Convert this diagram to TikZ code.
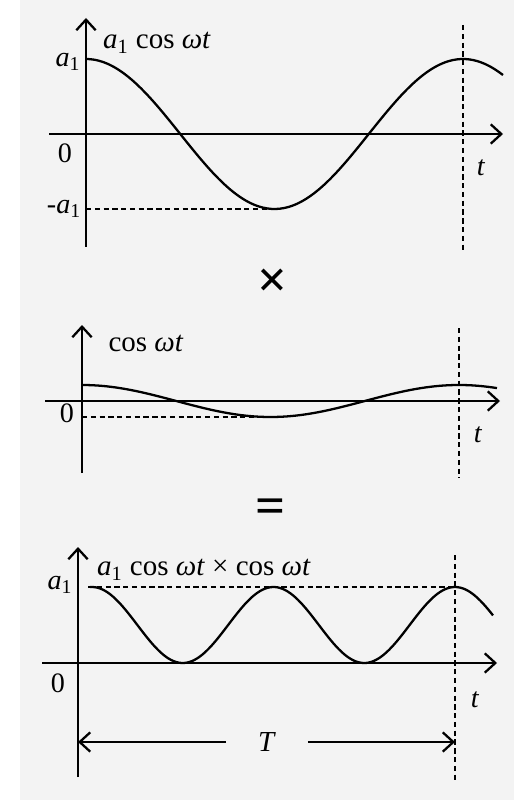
\documentclass[tikz,border=0pt]{standalone}
\usepackage{fontspec}
\setmainfont{Liberation Serif}
\usepackage{xcolor}
\usepackage{tikz}
\usetikzlibrary{arrows.meta}
\definecolor{papel}{RGB}{243,243,243}
\newcommand{\aone}{\textit{a}\textsubscript{1}}
\newcommand{\wt}{\textit{ωt}}

\begin{document}
\begin{tikzpicture}[x=0.02cm,y=-0.02cm,
	eje/.style={line width=1.3pt,-{Straight Barb[length=6pt,width=11pt,line width=1.3pt]}},
	onda/.style={line width=1.3pt},
	guia/.style={line width=0.9pt,dash pattern=on 3pt off 2pt},
	flecha/.style={line width=1.3pt,-{Straight Barb[length=6pt,width=11pt,line width=1.3pt]}},
	titulo/.style={font=\fontsize{16.5}{18}\selectfont,inner sep=0pt},
	etiq/.style={font=\fontsize{16}{18}\selectfont,inner sep=0pt},
	signo/.style={font=\fontsize{30}{32}\selectfont,inner sep=0pt}]
	\useasboundingbox (0,0) rectangle (514,803);
	\fill[white] (0,0) rectangle (514,803);
	\fill[papel] (20,0) rectangle (514,800);

	% primera onda
	\coordinate (y1a) at (86,247);
	\coordinate (y1b) at (86,18);
	\coordinate (x1a) at (49,134);
	\coordinate (x1b) at (503,134);
	\coordinate (m1) at (272,209);
	\coordinate (d1a) at (463,25);
	\coordinate (d1b) at (463,253);
	\draw[eje] (y1a) -- (y1b);
	\draw[eje] (x1a) -- (x1b);
	\draw[onda] plot[domain=86:503,samples=100,smooth] (\x,{134-75*cos(360/377*(\x-86))});
	\node[etiq] (amas1) at (68,62) {\aone};
	\node[etiq] (amenos1) at (64,209) {-\aone};
	\node[etiq] (cero1) at (65,153) {0};
	\node[etiq] (t1) at (481,168) {\textit{t}};
	\node[titulo] (f1) at (157,43) {\aone{} cos \wt};
	\draw[guia] (y1a |- m1) -- (m1);
	\draw[guia] (d1a) -- (d1b);

	\node[signo] (por) at (273,283) {\textbf{×}};

	% segunda onda
	\coordinate (y2a) at (82,473);
	\coordinate (y2b) at (82,325);
	\coordinate (x2a) at (45,401);
	\coordinate (x2b) at (500,401);
	\coordinate (m2) at (273,417);
	\coordinate (d2a) at (459,328);
	\coordinate (d2b) at (459,478);
	\draw[eje] (y2a) -- (y2b);
	\draw[eje] (x2a) -- (x2b);
	\draw[onda] plot[domain=82:497,samples=100,smooth] (\x,{401-16*cos(360/377*(\x-82))});
	\node[etiq] (cero2) at (67,413) {0};
	\node[etiq] (t2) at (478,435) {\textit{t}};
	\node[titulo] (f2) at (146,343) {cos \wt};
	\draw[guia] (y2a |- m2) -- (m2);
	\draw[guia] (d2a) -- (d2b);

	\node[signo] (igual) at (271,511) {\textbf{=}};

	% producto
	\coordinate (y3a) at (78,777);
	\coordinate (y3b) at (78,547);
	\coordinate (x3a) at (42,663);
	\coordinate (x3b) at (497,663);
	\coordinate (d3a) at (455,555);
	\coordinate (d3b) at (455,783);
	\draw[eje] (y3a) -- (y3b);
	\draw[eje] (x3a) -- (x3b);
	\draw[onda] plot[domain=90:493,samples=160,smooth] (\x,{663-76*cos(360/363*(\x-92))^2});
	\node[etiq] (amas3) at (60,585) {\aone};
	\node[etiq] (cero3) at (58,683) {0};
	\node[etiq] (t3) at (475,700) {\textit{t}};
	\node[titulo] (f3) at (204,570) {\aone{} cos \wt{} × cos \wt};
	\draw[guia] (88,587) -- (d3a |- 0,587);
	\draw[guia] (d3a) -- (d3b);
	\node[titulo,inner xsep=18pt] (T) at (267,742) {\textit{T}};
	\draw[flecha] (T) -- (y3a |- T);
	\draw[flecha] (T) -- (d3a |- T);
\end{tikzpicture}
\end{document}
